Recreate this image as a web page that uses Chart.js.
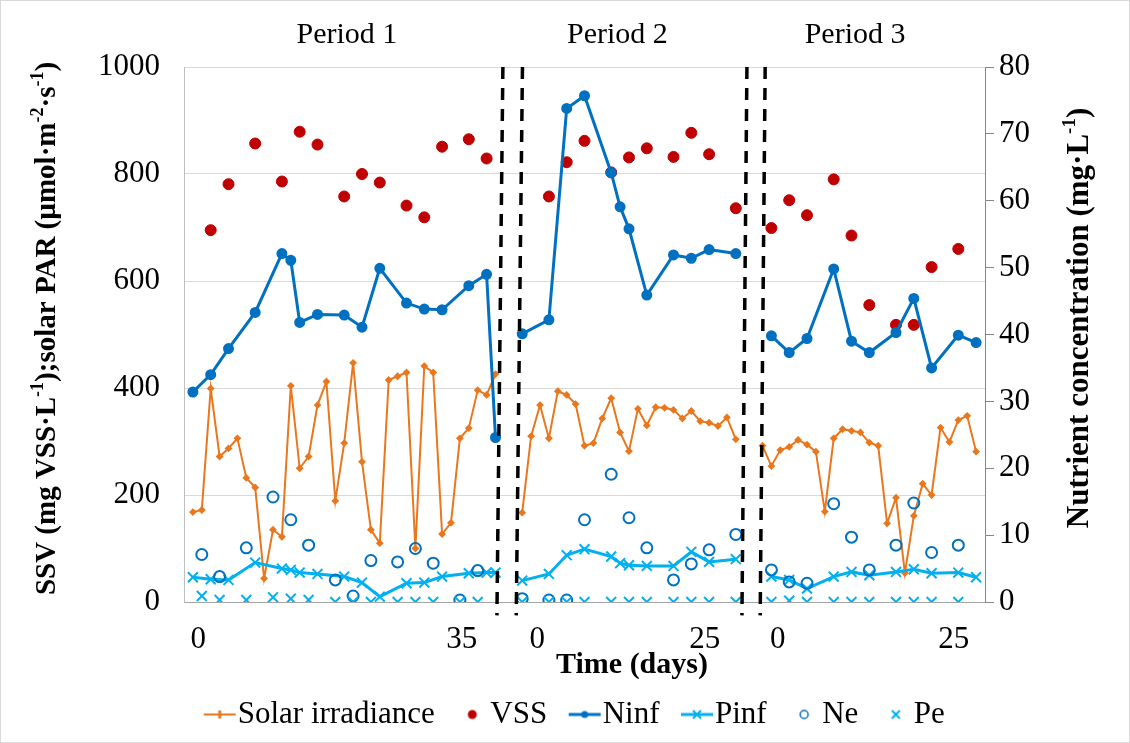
<!DOCTYPE html>
<html>
<head>
<meta charset="utf-8">
<script src="https://cdn.jsdelivr.net/npm/chart.js@4.4.1/dist/chart.umd.min.js"></script>
<style>
  html, body { margin: 0; padding: 0; background: #fff; }
</style>
</head>
<body>
<canvas id="chart" width="1130" height="743"></canvas>
<script>
// x = slot on the category axis (one slot per day, two empty slots between periods)
const solarStart = [0, 37, 64];
const solarP1 = [168, 172, 399, 272, 287, 306, 232, 214, 44, 135, 122, 404, 250, 272, 368, 412, 189, 297,
                 447, 262, 135, 110, 415, 422, 429, 100, 441, 429, 127, 148, 306, 325, 396, 387, 426];
const solarP2 = [167, 310, 368, 306, 394, 387, 370, 292, 297, 343, 381, 317, 282, 361, 330, 364, 363, 359,
                 343, 357, 338, 335, 329, 345, 304];
const solarP3 = [292, 254, 284, 290, 303, 294, 281, 169, 306, 323, 320, 317, 298, 292, 147, 195, 54, 161,
                 221, 200, 326, 299, 340, 348, 281];

const vssSlots = [2, 4, 7, 10, 12, 14, 17, 19, 21, 24, 26, 28, 31, 33,
                  40, 42, 44, 47, 49, 51, 54, 56, 58, 61,
                  65, 67, 69, 72, 74, 76, 79, 81, 83, 86];
const vssValues = [695, 781, 857, 786, 879, 855, 758, 800, 784, 741, 719, 851, 865, 829,
                   758, 822, 862, 803, 831, 848, 832, 877, 837, 736,
                   699, 751, 723, 790, 685, 555, 518, 518, 626, 660];

// influent sampling (Ninf, Pinf)
const infSlots = [0, 2, 4, 7, 10, 11, 12, 14, 17, 19, 21, 24, 26, 28, 31, 33, 34,
                  37, 40, 42, 44, 47, 48, 49, 51, 54, 56, 58, 61,
                  65, 67, 69, 72, 74, 76, 79, 81, 83, 86, 88];
const ninfValues = [31.4, 34.0, 37.9, 43.3, 52.1, 51.1, 41.8, 43.0, 42.9, 41.1, 49.9, 44.7, 43.8, 43.7, 47.3, 49.0, 24.6,
                    40.1, 42.2, 73.8, 75.7, 64.2, 59.1, 55.8, 45.9, 51.9, 51.4, 52.7, 52.1,
                    39.8, 37.3, 39.4, 49.8, 39.0, 37.3, 40.3, 45.4, 35.0, 39.9, 38.8];
const pinfValues = [3.7, 3.4, 3.3, 5.9, 5.0, 4.8, 4.4, 4.2, 3.8, 2.9, 0.8, 2.8, 2.9, 3.8, 4.3, 4.4, 4.4,
                    3.2, 4.2, 7.0, 7.9, 6.8, 5.8, 5.5, 5.4, 5.4, 7.5, 6.0, 6.4,
                    3.8, 3.3, 2.0, 3.8, 4.5, 4.0, 4.5, 4.9, 4.3, 4.4, 3.7];

// effluent sampling (Ne, Pe)
const effSlots = [1, 3, 6, 9, 11, 13, 16, 18, 20, 23, 25, 27, 30, 32,
                  37, 40, 42, 44, 47, 49, 51, 54, 56, 58, 61,
                  65, 67, 69, 72, 74, 76, 79, 81, 83, 86];
const neValues = [7.1, 3.8, 8.1, 15.7, 12.3, 8.5, 3.3, 0.9, 6.2, 6.0, 8.0, 5.8, 0.3, 4.7,
                  0.5, 0.3, 0.3, 12.3, 19.1, 12.6, 8.1, 3.3, 5.7, 7.8, 10.1,
                  4.8, 3.0, 2.8, 14.7, 9.7, 4.8, 8.5, 14.8, 7.4, 8.5];
const peValues = [0.9, 0.3, 0.3, 0.7, 0.5, 0.3, 0, 0, 0, 0, 0, 0, 0, 0,
                  0, 0, 0, 0, 0, 0, 0, 0, 0, 0, 0,
                  0, 0.2, 0, 0, 0, 0, 0, 0, 0, 0];

const periodBreaks = [35.5, 62.5];
const xTickPos = [0.6, 30.2, 38.7, 57.5, 65.7, 85.5];
const xTickLabels = ['0', '35', '0', '25', '0', '25'];
const periodLabels = ['Period 1', 'Period 2', 'Period 3'];
const periodPos = [17.3, 47.7, 74.4];
const sepTop = [34.83, 37.03, 62.25, 64.30];
const sepBottom = [34.16, 36.33, 61.69, 63.74];

const SERIF = "'Liberation Serif', 'Times New Roman', serif";
const ORANGE = '#E9771E', RED = '#C00000', BLUE = '#0070C0', CYAN = '#00B0F0';

function toPoints(slots, values) {
  const pts = [];
  slots.forEach((s, i) => {
    if (i > 0) periodBreaks.forEach(b => { if (slots[i - 1] < b && s > b) pts.push({x: b, y: null}); });
    pts.push({x: s, y: values[i]});
  });
  return pts;
}

const solarSlots = [], solarValues = [];
[solarP1, solarP2, solarP3].forEach((arr, p) => arr.forEach((v, i) => {
  solarSlots.push(solarStart[p] + i); solarValues.push(v);
}));

function icon(w, h, draw) {
  const c = document.createElement('canvas');
  c.width = w; c.height = h;
  draw(c.getContext('2d'), w / 2, h / 2);
  return c;
}
function cross(g, x, y, r) {
  g.beginPath();
  g.moveTo(x - r, y - r); g.lineTo(x + r, y + r);
  g.moveTo(x + r, y - r); g.lineTo(x - r, y + r);
  g.stroke();
}
const legendIcons = [
  icon(36, 12, (g, x, y) => {
    g.strokeStyle = ORANGE; g.lineWidth = 2;
    g.beginPath(); g.moveTo(2, y); g.lineTo(34, y); g.stroke();
    g.fillStyle = ORANGE; g.fillRect(x - 1.5, y - 4, 3, 8);
  }),
  icon(14, 14, (g, x, y) => { g.fillStyle = RED; g.beginPath(); g.arc(x, y, 4.5, 0, 2 * Math.PI); g.fill(); }),
  icon(36, 12, (g, x, y) => {
    g.strokeStyle = BLUE; g.lineWidth = 3;
    g.beginPath(); g.moveTo(2, y); g.lineTo(34, y); g.stroke();
    g.fillStyle = BLUE; g.beginPath(); g.arc(x, y, 3.5, 0, 2 * Math.PI); g.fill();
  }),
  icon(36, 14, (g, x, y) => {
    g.strokeStyle = CYAN; g.lineWidth = 3;
    g.beginPath(); g.moveTo(2, y); g.lineTo(34, y); g.stroke();
    g.lineWidth = 2; cross(g, x, y, 4);
  }),
  icon(14, 14, (g, x, y) => { g.strokeStyle = BLUE; g.lineWidth = 1.5; g.beginPath(); g.arc(x, y, 4, 0, 2 * Math.PI); g.stroke(); }),
  icon(14, 14, (g, x, y) => { g.strokeStyle = CYAN; g.lineWidth = 2; cross(g, x, y, 4); })
];

const separators = sepTop.map((t, i) => ({
  label: '',
  data: [{x: t, y: 1000}, {x: sepBottom[i], y: -25}],
  showLine: true, borderColor: '#000', borderWidth: 3.5, borderDash: [12, 9],
  pointRadius: 0, clip: false, yAxisID: 'y', order: 0
}));

function drawRich(ctx, parts, cx, cy, rot, size) {
  ctx.save();
  ctx.translate(cx, cy);
  ctx.rotate(rot);
  ctx.textBaseline = 'middle';
  ctx.textAlign = 'left';
  let total = 0;
  parts.forEach(p => {
    ctx.font = `bold ${p.sup ? Math.round(size * 0.62) : size}px ${SERIF}`;
    p.w = ctx.measureText(p.t).width;
    total += p.w;
  });
  let x = -total / 2;
  parts.forEach(p => {
    ctx.font = `bold ${p.sup ? Math.round(size * 0.62) : size}px ${SERIF}`;
    ctx.fillText(p.t, x, p.sup ? -size * 0.33 : 0);
    x += p.w;
  });
  ctx.restore();
}

const textPlugin = {
  id: 'texts',
  beforeDraw(chart) {
    const ctx = chart.ctx;
    ctx.save();
    ctx.fillStyle = '#fff';
    ctx.fillRect(0, 0, chart.width, chart.height);
    ctx.strokeStyle = '#d9d9d9';
    ctx.lineWidth = 1;
    ctx.strokeRect(0.5, 0.5, chart.width - 1, chart.height - 1);
    ctx.restore();
  },
  afterDraw(chart) {
    const ctx = chart.ctx, xs = chart.scales.x, area = chart.chartArea;
    ctx.save();
    ctx.fillStyle = '#000';
    ctx.font = `30px ${SERIF}`;
    ctx.textAlign = 'center';
    ctx.textBaseline = 'middle';
    periodLabels.forEach((t, i) => ctx.fillText(t, xs.getPixelForValue(periodPos[i]), area.top - 32));
    drawRich(ctx, [{t: 'Time (days)'}], 632, 665, 0, 30);
    drawRich(ctx, [{t: 'SSV (mg VSS\u00b7L'}, {t: '-1', sup: true}, {t: ');solar PAR (\u00b5mol\u00b7m'},
                   {t: '-2', sup: true}, {t: '\u00b7s'}, {t: '-1', sup: true}, {t: ')'}],
             area.left - 136, (area.top + area.bottom) / 2 - 6, -Math.PI / 2, 29);
    drawRich(ctx, [{t: 'Nutrient concentration (mg\u00b7L'}, {t: '-1', sup: true}, {t: ')'}],
             area.right + 95, 318, -Math.PI / 2, 31);
    ctx.restore();
  }
};

new Chart(document.getElementById('chart'), {
  type: 'scatter',
  data: {
    datasets: [
      {label: 'Solar irradiance', data: toPoints(solarSlots, solarValues), showLine: true,
       borderColor: ORANGE, backgroundColor: ORANGE, borderWidth: 2,
       pointStyle: 'rectRot', pointRadius: 2.5, yAxisID: 'y', order: 6},
      {label: 'VSS', data: toPoints(vssSlots, vssValues), showLine: false,
       backgroundColor: RED, borderColor: RED, pointRadius: 5.5, yAxisID: 'y', order: 5},
      {label: 'Ninf', data: toPoints(infSlots, ninfValues), showLine: true,
       borderColor: BLUE, backgroundColor: BLUE, borderWidth: 3, pointRadius: 4, yAxisID: 'y1', order: 4},
      {label: 'Pinf', data: toPoints(infSlots, pinfValues), showLine: true,
       borderColor: CYAN, backgroundColor: CYAN, borderWidth: 3, pointStyle: 'crossRot',
       pointRadius: 7, pointBorderWidth: 2, yAxisID: 'y1', order: 3},
      {label: 'Ne', data: toPoints(effSlots, neValues), showLine: false,
       borderColor: BLUE, backgroundColor: 'rgba(0,0,0,0)', pointRadius: 5.5, pointBorderWidth: 2,
       yAxisID: 'y1', order: 2},
      {label: 'Pe', data: toPoints(effSlots, peValues), showLine: false,
       borderColor: CYAN, pointStyle: 'crossRot', pointRadius: 7, pointBorderWidth: 2,
       yAxisID: 'y1', order: 1},
      ...separators
    ]
  },
  options: {
    responsive: false,
    animation: false,
    events: [],
    layout: {padding: {top: 67, left: 32, right: 0, bottom: 3}},
    scales: {
      x: {
        type: 'linear', min: -1, max: 89,
        grid: {display: false},
        border: {color: '#a6a6a6'},
        afterBuildTicks: s => { s.ticks = xTickPos.map(v => ({value: v})); },
        afterFit: s => { s.height = 743 - 602 - 3 - (s.chart.legend ? s.chart.legend.height : 0); },
        ticks: {
          autoSkip: false, maxRotation: 0, padding: 11, color: '#000',
          font: {family: SERIF, size: 31},
          callback: (v, i) => xTickLabels[i]
        }
      },
      y: {
        position: 'left', min: 0, max: 1000,
        grid: {color: '#d9d9d9', drawTicks: false},
        border: {color: '#bfbfbf'},
        afterFit: s => { s.width = 152; },
        ticks: {stepSize: 200, padding: 24, color: '#000', font: {family: SERIF, size: 31},
                callback: v => String(v)}
      },
      y1: {
        position: 'right', min: 0, max: 80,
        grid: {drawOnChartArea: false, drawTicks: true, tickLength: 9, color: '#868686'},
        border: {color: '#868686'},
        afterFit: s => { s.width = 145; },
        ticks: {stepSize: 10, padding: 5, color: '#000', font: {family: SERIF, size: 31}}
      }
    },
    plugins: {
      tooltip: {enabled: false},
      legend: {
        position: 'bottom',
        labels: {
          usePointStyle: true, pointStyleWidth: 5, padding: 35, color: '#000',
          font: {family: SERIF, size: 31},
          generateLabels: chart => chart.data.datasets
            .map((ds, i) => ({text: ds.label, pointStyle: legendIcons[i], datasetIndex: i,
                              fontColor: '#000', lineWidth: 0, hidden: false}))
            .filter(item => item.text)
        }
      }
    }
  },
  plugins: [textPlugin]
});
</script>
</body>
</html>
